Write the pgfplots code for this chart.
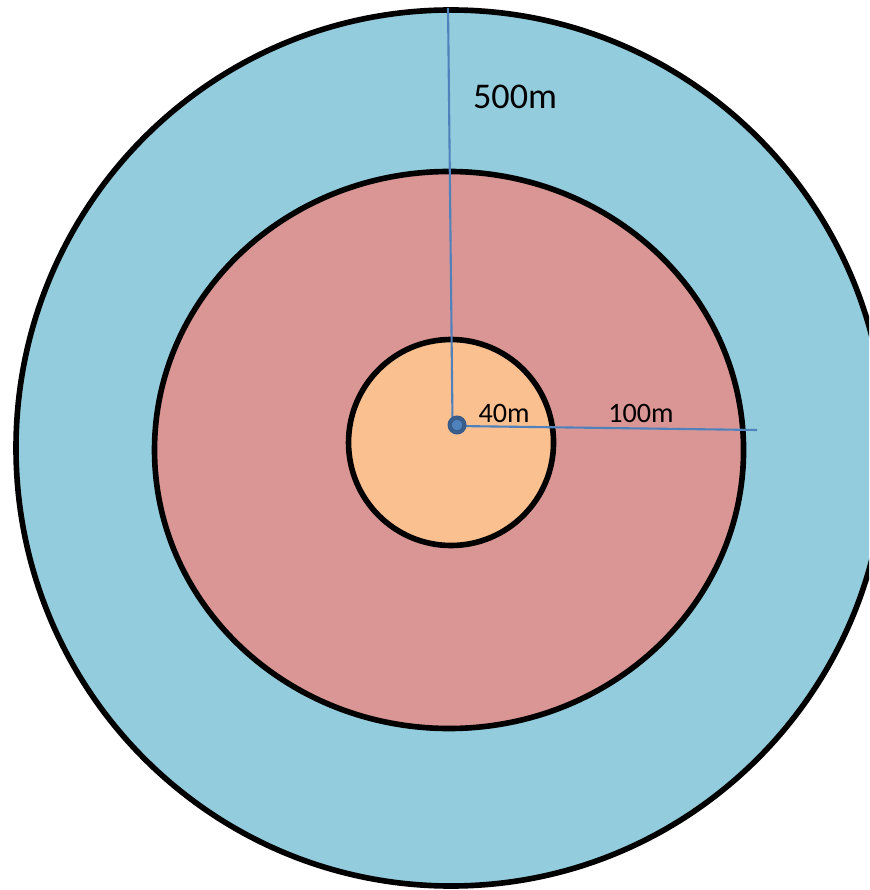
\documentclass[border=0pt]{standalone}
\usepackage{pgfplots}
\pgfplotsset{compat=1.18}
\usepackage{fontspec}
\setmainfont{Carlito}
\definecolor{outerc}{HTML}{93CDDD}
\definecolor{midc}{HTML}{D99694}
\definecolor{innerc}{HTML}{FAC090}
\definecolor{linec}{HTML}{4F81BD}
\definecolor{dotc}{HTML}{385D8A}
\begin{document}
\begin{tikzpicture}
\begin{axis}[
  name=main,
  width=8.69cm, height=8.9cm, scale only axis,
  xmin=0, xmax=869, ymin=0, ymax=890, y dir=reverse,
  hide axis, clip=true,
]
\draw[line width=1.6pt, fill=outerc] (axis cs:451,448) ellipse [x radius=435, y radius=438];
\draw[line width=1.6pt, fill=midc] (axis cs:449,450) ellipse [x radius=294.5, y radius=278.5];
\draw[line width=1.6pt, fill=innerc] (axis cs:451,442.5) ellipse [x radius=102.5, y radius=103];
\addplot[linec, line width=0.6pt, no marks] coordinates {(448,8) (452.5,425)};
\addplot[linec, line width=0.6pt, no marks] coordinates {(457,426) (757,430)};
\addplot[only marks, mark=*, mark size=2.1pt, mark options={fill=linec, draw=dotc, line width=1.2pt}] coordinates {(457,425)};
\node[font=\fontsize{10.3pt}{12pt}\selectfont] at (axis cs:515,97) {500m};
\node[font=\fontsize{8pt}{10pt}\selectfont] at (axis cs:504,413) {40m};
\node[font=\fontsize{8pt}{10pt}\selectfont] at (axis cs:641,413) {100m};
\end{axis}
\pgfresetboundingbox
\path[use as bounding box] (main.south west) rectangle (main.north east);
\end{tikzpicture}
\end{document}
